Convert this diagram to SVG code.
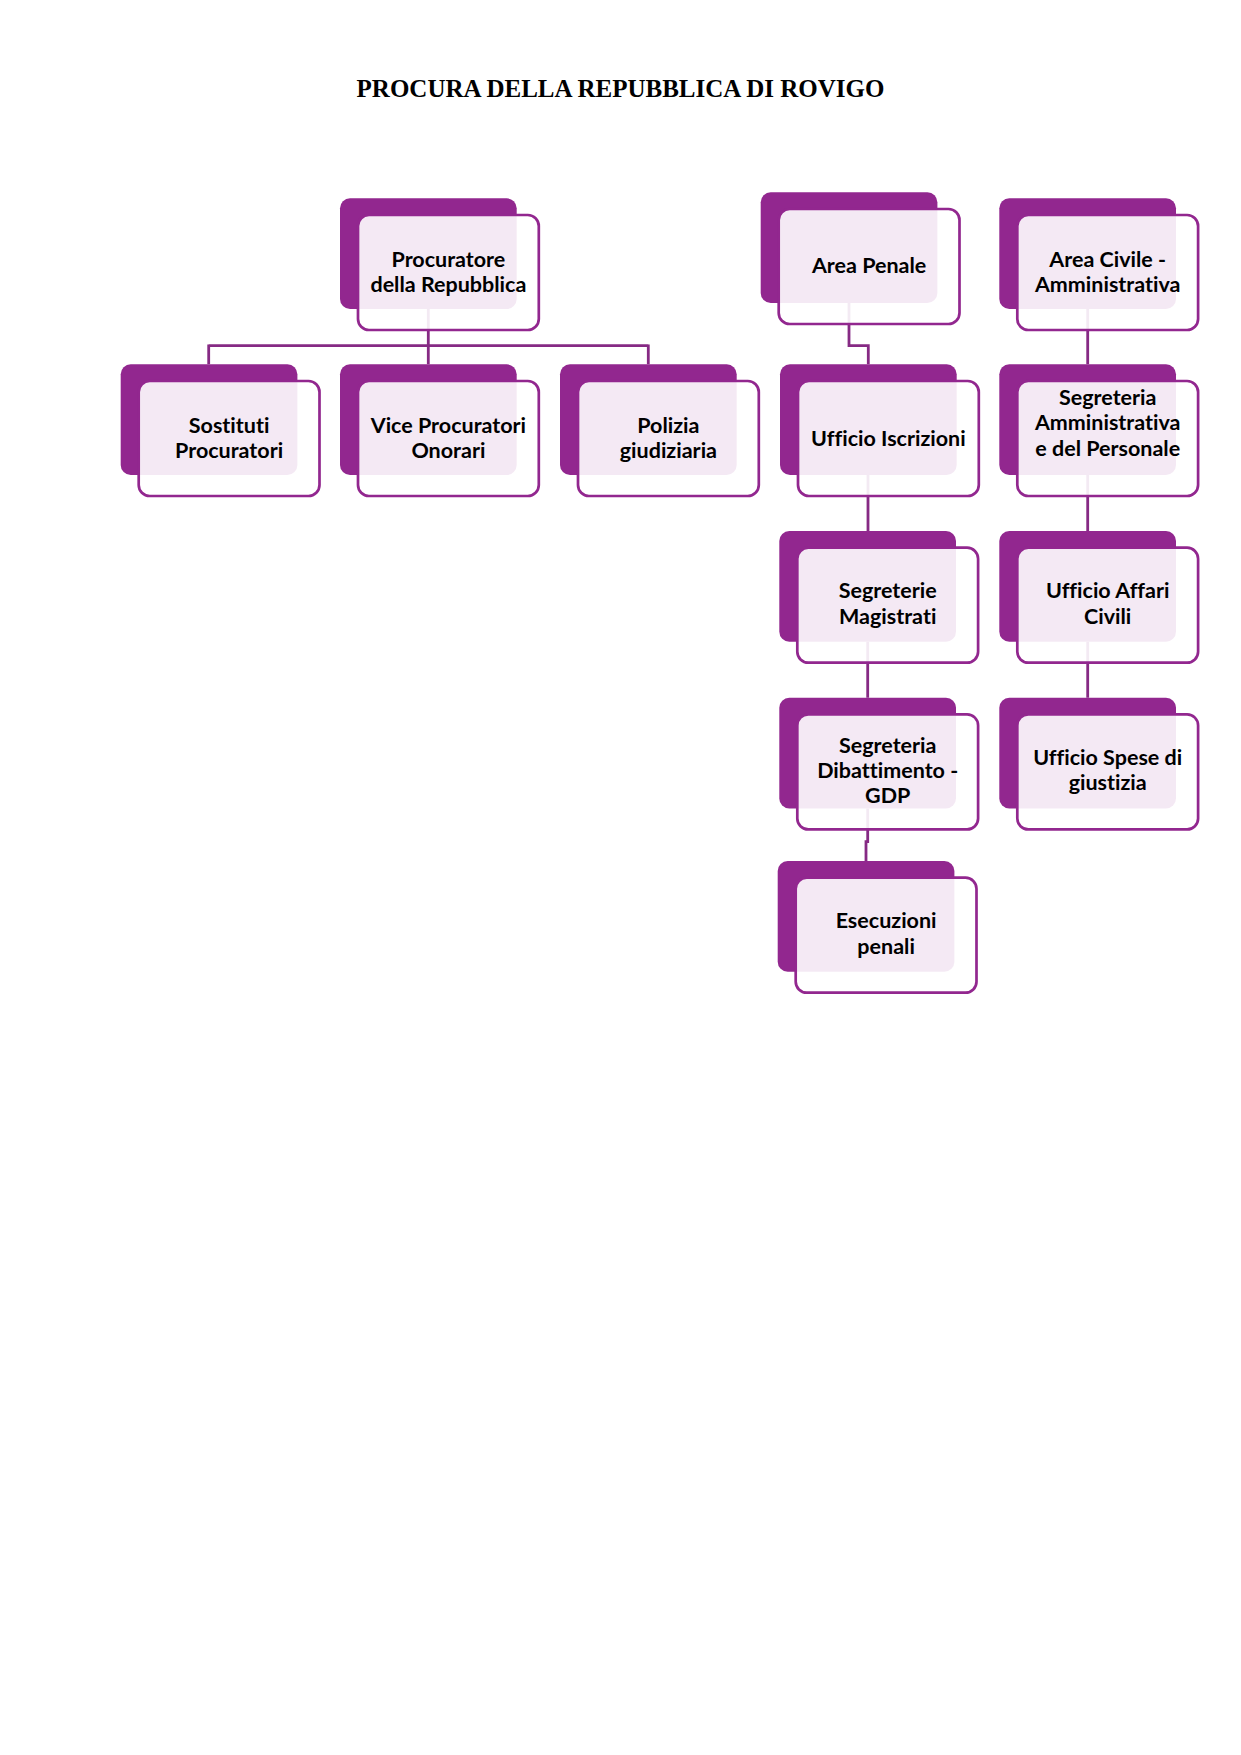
<svg xmlns="http://www.w3.org/2000/svg" width="1241" height="1755" viewBox="0 0 1241 1755">
<style>
.bg{fill:#ffffff}
.dk{fill:#92278f}
.fr{fill:#ffffff;fill-opacity:0.9;stroke:#92278f;stroke-width:2.7}
.cn{fill:none;stroke:#862a84;stroke-width:2.8}
.t{font-family:Lato,"Open Sans","Liberation Sans",sans-serif;font-weight:700;font-size:21.5px;fill:#000000;text-anchor:middle;font-variant-ligatures:none}
.ttl{font-family:"Liberation Serif","Times New Roman",serif;font-weight:700;font-size:25px;fill:#000000;text-anchor:middle}
</style>
<rect class="bg" x="0" y="0" width="1241" height="1755"/>
<text class="ttl" x="620.5" y="97">PROCURA DELLA REPUBBLICA DI ROVIGO</text>

<g id="connectors">
<path class="cn" d="M428.3,309 V345.7 M208.7,345.7 H648.3 M208.7,344.4 V364.3 M428.3,345.7 V364.3 M648.3,344.4 V364.3"/>
<path class="cn" d="M849,302.3 V345.7 H868.3 V364.3"/>
<path class="cn" d="M868,475 V531 M867.7,641.7 V697.7 M867.7,808.4 V841.7 H866 V861"/>
<path class="cn" d="M1087.7,309 V364.3 M1087.7,475 V531 M1087.7,641.7 V697.7"/>
</g>

<g id="procuratore">
<rect class="dk" x="340" y="198.3" width="176.7" height="110.7" rx="10"/>
<rect class="fr" x="358" y="215" width="180.8" height="115" rx="11"/>
<text class="t" x="448.4" y="266.7">Procuratore</text>
<text class="t" x="448.4" y="291.7">della Repubblica</text>
</g>

<g id="sostituti">
<rect class="dk" x="120.7" y="364.3" width="176.7" height="110.7" rx="10"/>
<rect class="fr" x="138.7" y="381" width="180.8" height="115" rx="11"/>
<text class="t" x="229.1" y="432.7">Sostituti</text>
<text class="t" x="229.1" y="457.7">Procuratori</text>
</g>

<g id="vice">
<rect class="dk" x="340" y="364.3" width="176.7" height="110.7" rx="10"/>
<rect class="fr" x="358" y="381" width="180.8" height="115" rx="11"/>
<text class="t" x="448.4" y="432.7">Vice Procuratori</text>
<text class="t" x="448.4" y="457.7">Onorari</text>
</g>

<g id="polizia">
<rect class="dk" x="560" y="364.3" width="176.7" height="110.7" rx="10"/>
<rect class="fr" x="578" y="381" width="180.8" height="115" rx="11"/>
<text class="t" x="668.4" y="432.7">Polizia</text>
<text class="t" x="668.4" y="457.7">giudiziaria</text>
</g>

<g id="area-penale">
<rect class="dk" x="760.7" y="192.3" width="176.7" height="110.7" rx="10"/>
<rect class="fr" x="778.7" y="209" width="180.8" height="115" rx="11"/>
<text class="t" x="869.1" y="272.7">Area Penale</text>
</g>

<g id="area-civile">
<rect class="dk" x="999.3" y="198.3" width="176.7" height="110.7" rx="10"/>
<rect class="fr" x="1017.3" y="215" width="180.8" height="115" rx="11"/>
<text class="t" x="1107.7" y="267">Area Civile -</text>
<text class="t" x="1107.7" y="291.7">Amministrativa</text>
</g>

<g id="ufficio-iscrizioni">
<rect class="dk" x="780" y="364.3" width="176.7" height="110.7" rx="10"/>
<rect class="fr" x="798" y="381" width="180.8" height="115" rx="11"/>
<text class="t" x="888.4" y="446">Ufficio Iscrizioni</text>
</g>

<g id="segreteria-amministrativa">
<rect class="dk" x="999.3" y="364.3" width="176.7" height="110.7" rx="10"/>
<rect class="fr" x="1017.3" y="381" width="180.8" height="115" rx="11"/>
<text class="t" x="1107.7" y="405">Segreteria</text>
<text class="t" x="1107.7" y="430.3">Amministrativa</text>
<text class="t" x="1107.7" y="455.7">e del Personale</text>
</g>

<g id="segreterie-magistrati">
<rect class="dk" x="779.3" y="531" width="176.7" height="110.7" rx="10"/>
<rect class="fr" x="797.3" y="547.7" width="180.8" height="115" rx="11"/>
<text class="t" x="887.7" y="598.3">Segreterie</text>
<text class="t" x="887.7" y="624">Magistrati</text>
</g>

<g id="ufficio-affari-civili">
<rect class="dk" x="999.3" y="531" width="176.7" height="110.7" rx="10"/>
<rect class="fr" x="1017.3" y="547.7" width="180.8" height="115" rx="11"/>
<text class="t" x="1107.7" y="598.3">Ufficio Affari</text>
<text class="t" x="1107.7" y="624">Civili</text>
</g>

<g id="segreteria-dibattimento">
<rect class="dk" x="779.3" y="697.7" width="176.7" height="110.7" rx="10"/>
<rect class="fr" x="797.3" y="714.4" width="180.8" height="115" rx="11"/>
<text class="t" x="887.7" y="752.7">Segreteria</text>
<text class="t" x="887.7" y="778.3">Dibattimento -</text>
<text class="t" x="887.7" y="803.3">GDP</text>
</g>

<g id="ufficio-spese">
<rect class="dk" x="999.3" y="697.7" width="176.7" height="110.7" rx="10"/>
<rect class="fr" x="1017.3" y="714.4" width="180.8" height="115" rx="11"/>
<text class="t" x="1107.7" y="765">Ufficio Spese di</text>
<text class="t" x="1107.7" y="790">giustizia</text>
</g>

<g id="esecuzioni">
<rect class="dk" x="777.7" y="861" width="176.7" height="110.7" rx="10"/>
<rect class="fr" x="795.7" y="877.7" width="180.8" height="115" rx="11"/>
<text class="t" x="886.1" y="928.3">Esecuzioni</text>
<text class="t" x="886.1" y="954.3">penali</text>
</g>
</svg>
